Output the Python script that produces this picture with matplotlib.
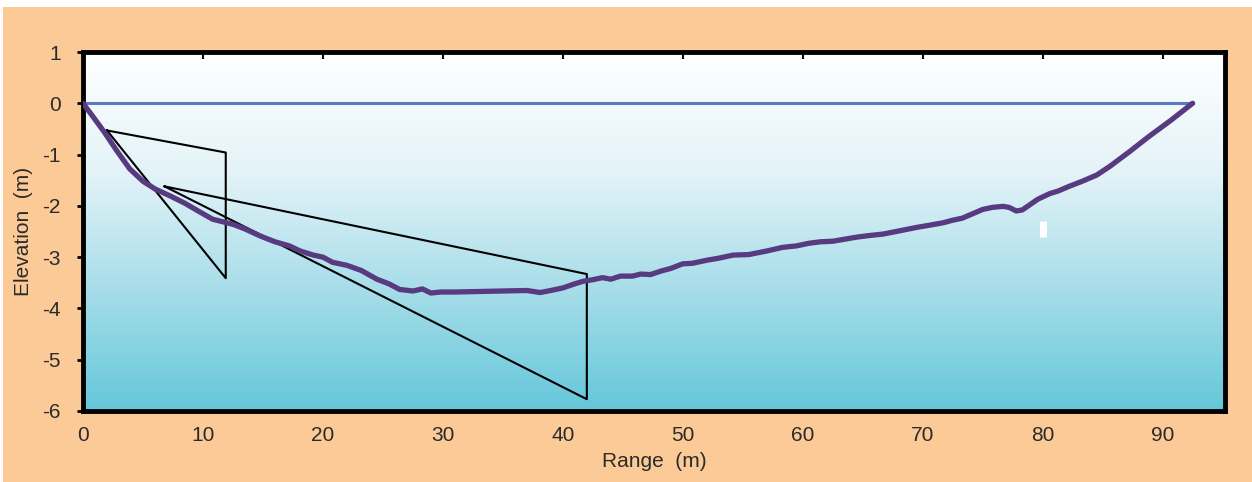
import matplotlib.pyplot as plt
import numpy as np
from matplotlib.colors import LinearSegmentedColormap
from matplotlib.patches import Rectangle

plt.rcParams['font.family'] = ['Liberation Sans', 'DejaVu Sans']
plt.rcParams['axes.unicode_minus'] = False

# channel cross-section profile (range m, elevation m)
profile_x = [0.0, 0.8, 1.8, 2.8, 3.9, 5.0, 6.0, 7.3, 8.5, 9.6, 10.8, 12.5, 13.5, 14.8,
             16.0, 17.2, 18.1, 19.2, 20.0, 20.8, 22.0, 23.2, 24.5, 25.5, 26.4, 27.5,
             28.3, 29.0, 29.8, 31.0, 33.0, 35.0, 37.0, 38.1, 39.0, 40.0, 41.0, 41.7,
             42.5, 43.3, 44.0, 44.8, 45.8, 46.5, 47.3, 48.2, 49.0, 50.0, 50.8, 52.0,
             53.0, 54.2, 55.5, 57.0, 58.3, 59.5, 60.5, 61.5, 62.5, 63.5, 64.5, 65.5,
             66.7, 68.0, 69.5, 70.5, 71.7, 72.5, 73.3, 74.2, 75.0, 75.8, 76.7, 77.2,
             77.8, 78.3, 78.8, 79.6, 80.6, 81.3, 82.2, 83.3, 84.5, 85.6, 87.2, 88.9,
             90.7, 92.5]
profile_y = [0.00, -0.25, -0.57, -0.92, -1.28, -1.52, -1.67, -1.81, -1.95, -2.10,
             -2.26, -2.36, -2.45, -2.59, -2.70, -2.78, -2.88, -2.96, -3.00, -3.10,
             -3.16, -3.26, -3.43, -3.52, -3.63, -3.66, -3.62, -3.70, -3.68, -3.68,
             -3.67, -3.66, -3.65, -3.69, -3.65, -3.60, -3.52, -3.47, -3.44, -3.40,
             -3.43, -3.37, -3.37, -3.33, -3.34, -3.27, -3.22, -3.13, -3.12, -3.06,
             -3.02, -2.96, -2.95, -2.88, -2.81, -2.78, -2.73, -2.70, -2.69, -2.65,
             -2.61, -2.58, -2.55, -2.49, -2.42, -2.38, -2.33, -2.28, -2.24, -2.15,
             -2.07, -2.03, -2.01, -2.03, -2.10, -2.08, -2.00, -1.87, -1.76, -1.71,
             -1.62, -1.52, -1.40, -1.23, -0.95, -0.64, -0.33, 0.00]

water_x = [0.0, 92.5]
water_y = [0.0, 0.0]

tri1_x = [2.0, 11.9, 11.9, 2.0]
tri1_y = [-0.53, -0.96, -3.41, -0.53]
tri2_x = [6.8, 42.0, 42.0, 6.8]
tri2_y = [-1.62, -3.33, -5.77, -1.62]

marker_x = [80.0]
marker_y = [-2.46]

fig = plt.figure(figsize=(12.52, 4.82), dpi=100, facecolor='white')
fig.patches.append(Rectangle((3 / 1252, 0), 1, (482 - 7) / 482, transform=fig.transFigure,
                             facecolor='#FBCA97', edgecolor='none', zorder=-1))

ax = fig.add_axes([83 / 1252, 1 - 411 / 482, (1225 - 83) / 1252, (411 - 52) / 482])
ax.set_xlim(0, 95.2)
ax.set_ylim(-6, 1)

# gradient background: white at top to cyan at bottom
cmap = LinearSegmentedColormap.from_list('bg', ['#FFFFFF', '#E4F3F8', '#A6DDE9', '#64C7DA'])
grad = np.linspace(0, 1, 256).reshape(-1, 1)
ax.imshow(grad, cmap=cmap, aspect='auto', extent=[0, 95.2, -6, 1], zorder=0)

ax.plot(water_x, water_y, color='#5B77C6', lw=2.2, zorder=2)
ax.plot(tri1_x, tri1_y, color='black', lw=1.5, zorder=3)
ax.plot(tri2_x, tri2_y, color='black', lw=1.5, zorder=3)
ax.plot(profile_x, profile_y, color='#573A80', lw=3.8, solid_capstyle='round',
        solid_joinstyle='round', zorder=4)
ax.plot(marker_x, marker_y, marker='|', ms=11, mew=5, color='white', ls='none', zorder=5)

for s in ax.spines.values():
    s.set_linewidth(3.5)
    s.set_color('black')

ax.set_xticks(np.arange(0, 91, 10))
ax.set_yticks(np.arange(-6, 2, 1))
ax.tick_params(axis='x', bottom=False, top=True, direction='in', length=5, width=1.5,
               labelsize=15, labelcolor='#2b2b2b', color='black', pad=11)
ax.tick_params(axis='y', direction='out', length=4, width=2, labelsize=15,
               labelcolor='#2b2b2b', color='black', pad=12)

ax.set_xlabel('Range  (m)', fontsize=15, color='#2b2b2b', labelpad=5)
ax.set_ylabel('Elevation  (m)', fontsize=15, color='#2b2b2b', labelpad=7)

fig.savefig('out.png', dpi=100, facecolor=fig.get_facecolor())
